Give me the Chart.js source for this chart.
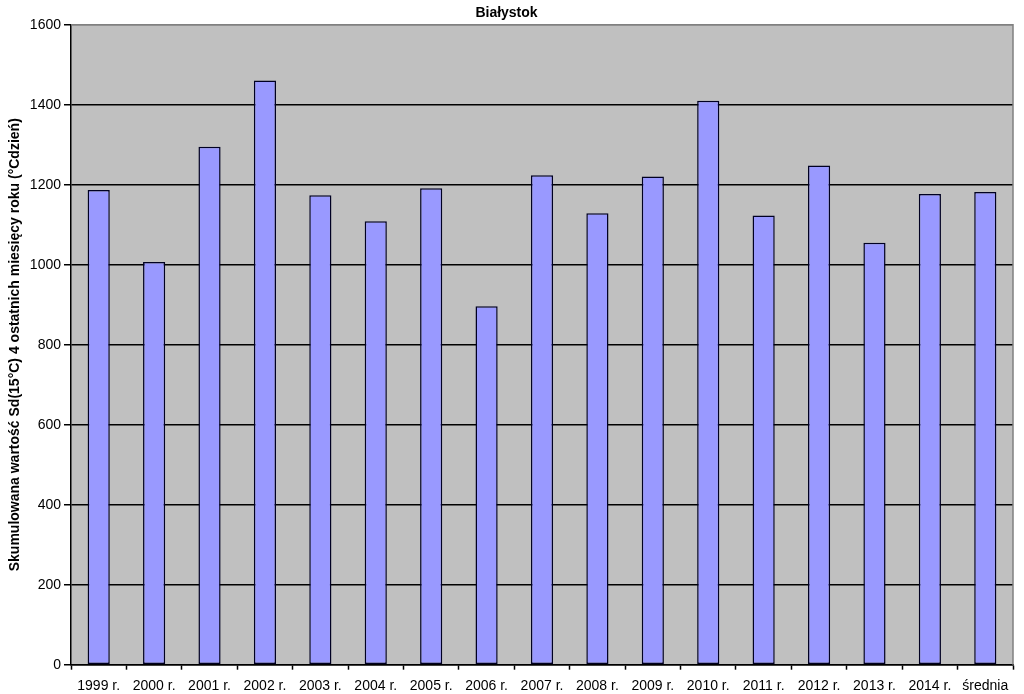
<!DOCTYPE html>
<html>
<head>
<meta charset="utf-8">
<script src="https://cdn.jsdelivr.net/npm/chart.js@4.4.1/dist/chart.umd.min.js"></script>
<style>
html,body{margin:0;padding:0;background:#fff;}
canvas{display:block;}
</style>
</head>
<body>
<canvas id="c" width="1024" height="694"></canvas>
<script>
const categories = ['1999 r.','2000 r.','2001 r.','2002 r.','2003 r.','2004 r.','2005 r.','2006 r.','2007 r.','2008 r.','2009 r.','2010 r.','2011 r.','2012 r.','2013 r.','2014 r.','średnia'];
const values = [1187,1007,1295,1461,1174,1109,1191,896,1224,1129,1221,1410,1123,1248,1055,1177,1182];
const yTicks = [0,200,400,600,800,1000,1200,1400,1600];
const chartTitle = 'Białystok';
const yTitle = 'Skumulowana wartość Sd(15°C) 4 ostatnich miesięcy roku (°Cdzień)';

const FONT = '"Liberation Sans", Arial, sans-serif';

const plotBg = {
  id: 'plotBg',
  beforeDraw(chart) {
    const {ctx, chartArea: a} = chart;
    ctx.save();
    ctx.fillStyle = '#C0C0C0';
    ctx.fillRect(a.left, a.top, a.right - a.left, a.bottom - a.top);
    ctx.restore();
  },
  afterDraw(chart) {
    const {ctx, chartArea: a} = chart;
    ctx.save();
    ctx.strokeStyle = '#808080';
    ctx.lineWidth = 1.5;
    ctx.beginPath();
    ctx.moveTo(a.left, a.top);
    ctx.lineTo(a.right, a.top);
    ctx.lineTo(a.right, a.bottom);
    ctx.stroke();
    ctx.restore();
  }
};

new Chart(document.getElementById('c'), {
  type: 'bar',
  data: {
    labels: categories,
    datasets: [{
      data: values,
      backgroundColor: '#9999FF',
      borderColor: '#000022',
      borderWidth: 1.5,
      borderSkipped: false,
      barPercentage: 0.4,
      categoryPercentage: 1.0
    }]
  },
  options: {
    responsive: false,
    animation: false,
    devicePixelRatio: 1,
    layout: { padding: { left: 0, right: 11, top: 0, bottom: 0 } },
    plugins: {
      legend: { display: false },
      tooltip: { enabled: false },
      title: {
        display: true,
        text: chartTitle,
        color: '#000',
        font: { family: FONT, size: 14, weight: 'bold' },
        padding: { top: 5, bottom: 3 }
      }
    },
    scales: {
      x: {
        grid: {
          offset: true,
          drawOnChartArea: false,
          drawTicks: true,
          tickLength: 5,
          tickColor: '#000',
          tickWidth: 1.5
        },
        border: { display: true, color: '#000', width: 1.5 },
        ticks: {
          color: '#000',
          font: { family: FONT, size: 14 },
          padding: 8,
          maxRotation: 0,
          autoSkip: false
        },
        afterFit(s) { s.height = 29.3; }
      },
      y: {
        min: 0,
        max: 1600,
        afterBuildTicks(s) { s.ticks = yTicks.map(v => ({ value: v })); },
        grid: {
          color: (c) => (c.tick && c.tick.value === 1600) ? '#808080' : '#000',
          lineWidth: 1.5,
          tickLength: 7,
          tickColor: '#000',
          tickWidth: 1.5
        },
        border: { display: true, color: '#000', width: 1.5 },
        ticks: {
          color: '#000',
          font: { family: FONT, size: 14 },
          padding: 3,
          callback: (v) => String(v)
        },
        title: {
          display: true,
          text: yTitle,
          color: '#000',
          font: { family: FONT, size: 14, weight: 'bold' },
          padding: { top: 7, bottom: 0 }
        },
        afterFit(s) { s.width = 71; }
      }
    }
  },
  plugins: [plotBg]
});
</script>
</body>
</html>
